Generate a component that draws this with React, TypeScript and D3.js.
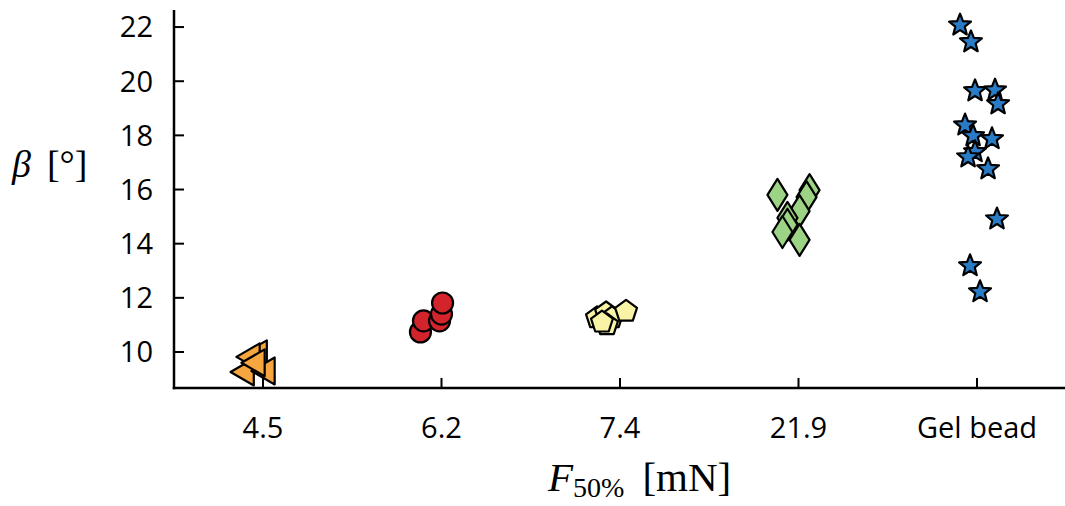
import React from "react";
import * as d3 from "d3";

const categories = ["4.5", "6.2", "7.4", "21.9", "Gel bead"];
const yTicks = [10, 12, 14, 16, 18, 20, 22];

// jitter in units of category step, beta in degrees
const triJitter = [-0.022, -0.062, -0.095, 0.022, -0.034];
const triBeta = [9.93, 9.82, 9.26, 9.3, 9.6];

const circJitter = [-0.118, -0.101, -0.011, 0.0, 0.006];
const circBeta = [10.74, 11.15, 11.15, 11.4, 11.81];

const pentJitter = [-0.129, -0.078, -0.045, 0.034, -0.073, -0.101];
const pentBeta = [11.26, 11.44, 11.26, 11.5, 11.0, 11.1];

const diaJitter = [-0.118, 0.062, 0.045, 0.006, -0.062, -0.062, -0.09, 0.006];
const diaBeta = [15.8, 15.98, 15.72, 15.2, 14.95, 14.7, 14.43, 14.14];

const starJitter = [-0.095, -0.034, -0.011, 0.101, 0.118, -0.067, -0.022, 0.084, -0.011, -0.05, 0.062, 0.112, -0.039, 0.017];
const starBeta = [22.07, 21.45, 19.64, 19.67, 19.16, 18.38, 17.98, 17.87, 17.39, 17.2, 16.76, 14.91, 13.18, 12.22];

const W = 1065;
const H = 506;
const axisX = 174;
const axisY = 388;

const x = d3.scalePoint<string>().domain(categories).range([263, 977]);
const y = d3.scaleLinear().domain([8.67, 22.63]).range([axisY, 10]);

function triPath(r: number) {
  const h = r * 1.5;
  return `M${-r},0 L${r * 0.5},${-h * 0.58} L${r * 0.5},${h * 0.58} Z`;
}
function pentPath(r: number) {
  const pts = d3.range(5).map((i) => {
    const a = -Math.PI / 2 + (i * 2 * Math.PI) / 5;
    return [r * Math.cos(a), r * Math.sin(a)];
  });
  return "M" + pts.map((p) => p.join(",")).join("L") + "Z";
}
function diaPath(w: number, h: number) {
  return `M0,${-h}L${w},0L0,${h}L${-w},0Z`;
}
function starPath(R: number, ri: number) {
  const pts = d3.range(10).map((i) => {
    const a = -Math.PI / 2 + (i * Math.PI) / 5;
    const rr = i % 2 === 0 ? R : ri;
    return [rr * Math.cos(a), rr * Math.sin(a)];
  });
  return "M" + pts.map((p) => p.map((v) => v.toFixed(2)).join(",")).join("L") + "Z";
}

const series = [
  { cat: "4.5", jitter: triJitter, beta: triBeta, fill: "#F7A53F", d: triPath(15.5) },
  { cat: "6.2", jitter: circJitter, beta: circBeta, fill: "#D3232B", d: "" },
  { cat: "7.4", jitter: pentJitter, beta: pentBeta, fill: "#F9F3A6", d: pentPath(11.5) },
  { cat: "21.9", jitter: diaJitter, beta: diaBeta, fill: "#9DD384", d: diaPath(10, 16) },
  { cat: "Gel bead", jitter: starJitter, beta: starBeta, fill: "#2A7BC5", d: starPath(11.5, 5) },
];

export default function App() {
  const step = x.step();
  const tickFont = "'Open Sans', Lato, sans-serif";
  const serif = "'Liberation Serif', 'DejaVu Serif', serif";
  return (
    <svg width={W} height={H} style={{ position: "absolute", left: 0, top: 0, background: "#fff" }}>
      <line x1={axisX} y1={10} x2={axisX} y2={axisY + 1.25} stroke="#000" strokeWidth={2.5} />
      <line x1={axisX - 1.25} y1={axisY} x2={W} y2={axisY} stroke="#000" strokeWidth={2.5} />
      {yTicks.map((t) => (
        <g key={t}>
          <line x1={axisX} x2={axisX + 10} y1={y(t)} y2={y(t)} stroke="#000" strokeWidth={2} />
          <text x={153} y={y(t)} dy="0.36em" textAnchor="end" fontFamily={tickFont} fontSize={29} fill="#000">
            {t}
          </text>
        </g>
      ))}
      {categories.map((c) => (
        <g key={c}>
          <line x1={x(c)} x2={x(c)} y1={axisY} y2={axisY - 10} stroke="#000" strokeWidth={2} />
          <text x={x(c)} y={438} textAnchor="middle" fontFamily={tickFont} fontSize={29} fill="#000">
            {c}
          </text>
        </g>
      ))}
      {series.map((s) =>
        s.beta.map((b, i) => {
          const cx = (x(s.cat) as number) + s.jitter[i] * step;
          const cy = y(b);
          if (s.d === "")
            return <circle key={s.cat + i} cx={cx} cy={cy} r={10.5} fill={s.fill} stroke="#000" strokeWidth={2.2} />;
          return (
            <path key={s.cat + i} d={s.d} transform={`translate(${cx},${cy})`} fill={s.fill} stroke="#000" strokeWidth={2.2} strokeLinejoin="round" />
          );
        })
      )}
      <text x={12} y={177} fontFamily={serif} fontSize={38} fill="#000">
        <tspan fontStyle="italic">β</tspan>
        <tspan dx={16}>[°]</tspan>
      </text>
      <text x={548} y={491} fontFamily={serif} fontSize={41} fill="#000">
        <tspan fontStyle="italic">F</tspan>
        <tspan fontSize={28} dy={6}>50%</tspan>
        <tspan dy={-6} dx={18}>[mN]</tspan>
      </text>
    </svg>
  );
}
